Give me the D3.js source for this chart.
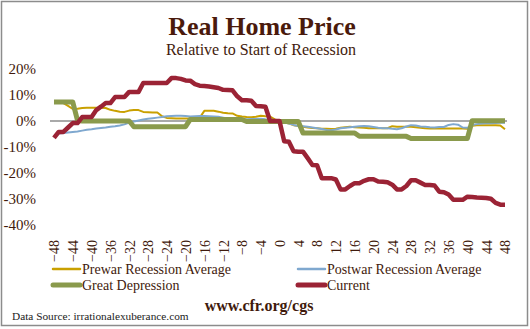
<!DOCTYPE html>
<html><head><meta charset="utf-8">
<script src="https://cdn.jsdelivr.net/npm/d3@7"></script>
<style>body{margin:0;background:#fff}svg{display:block}svg text{font-family:'Liberation Serif','DejaVu Serif',serif}</style>
</head><body>
<svg id="chart" width="530" height="329"></svg>
<script>
const months = d3.range(-48, 49);
const xTickLabels = d3.range(-48, 49, 4);
const yTicks = [20, 10, 0, -10, -20, -30, -40];

const prewar = [6.9,6.9,6.9,5.8,4.6,4.7,5.0,5.1,5.1,5.1,5.1,5.0,4.3,3.9,3.6,3.5,4.0,4.2,4.2,3.5,3.4,3.3,3.3,1.8,1.2,1.1,1.0,1.0,1.0,1.0,1.1,1.2,3.9,3.9,3.9,3.6,3.2,3.0,2.9,2.0,1.7,1.5,1.4,1.6,2.0,1.8,1.7,0.6,0,
 -0.5,-1.0,-1.6,-1.9,-2.2,-2.5,-2.7,-2.8,-3.0,-3.0,-3.1,-3.0,-2.6,-2.4,-2.2,-2.4,-2.5,-2.6,-2.8,-2.8,-2.8,-2.8,-2.8,-2.0,-2.2,-2.2,-2.2,-2.2,-2.4,-2.6,-2.8,-2.9,-2.9,-2.9,-2.9,-2.9,-2.9,-2.9,-2.9,-3.0,-1.8,-1.6,-1.6,-1.6,-1.6,-1.6,-1.7,-3.2];

const postwar = [-6.3,-4.8,-4.6,-4.4,-4.2,-4.0,-3.7,-3.4,-3.2,-2.9,-2.7,-2.5,-2.2,-2.0,-1.7,-1.3,-0.6,-0.2,0.2,0.6,0.9,1.1,1.3,1.5,1.8,1.9,2.0,2.0,1.9,1.7,1.8,1.9,1.9,1.8,1.7,1.6,1.3,1.0,0.8,0.7,0.6,0.7,0.8,0.8,0.9,0.7,0.6,0.3,0,
 -0.6,-1.0,-1.5,-1.9,-2.0,-2.2,-2.5,-2.8,-3.1,-3.5,-3.6,-3.3,-2.8,-2.6,-2.4,-2.2,-2.0,-1.9,-2.0,-2.3,-2.6,-2.8,-2.8,-3.0,-3.2,-2.8,-2.1,-1.6,-1.7,-2.1,-2.2,-2.4,-2.5,-2.3,-2.3,-1.5,-1.2,-1.4,-2.5,-2.6,-1.5,-1.2,-1.0,-0.9,-0.9,-0.8,-0.7,-0.7];

const greatDepression = [7.3,7.3,7.3,7.3,7.3,0.2,0,0,0,0,0,0,0,0,0,0,0,-2.2,-2.2,-2.2,-2.2,-2.2,-2.2,-2.2,-2.2,-2.2,-2.2,-2.2,-2.2,0.6,0.6,0.6,0.6,0.6,0.6,0.6,0.6,0.6,0.6,0.6,0.6,-0.2,-0.2,-0.2,-0.2,-0.2,-0.2,-0.2,-0.2,
 -0.2,-0.2,-0.2,-0.2,-4.6,-4.6,-4.6,-4.6,-4.6,-4.6,-4.6,-4.6,-4.6,-4.6,-4.6,-4.6,-5.9,-5.9,-5.9,-5.9,-5.9,-5.9,-5.9,-5.9,-5.9,-5.9,-5.9,-6.7,-6.7,-6.7,-6.7,-6.7,-6.7,-6.7,-6.7,-6.7,-6.7,-6.7,-6.7,-6.7,0.1,0.1,0.1,0.1,0.1,0.1,0.1,0.1];

const current = [-6.5,-4.2,-4.2,-2.5,-0.8,-0.8,1.5,1.5,1.5,4.2,5.5,6.9,6.9,9.2,9.2,9.2,11.2,11.2,11.2,14.6,14.6,14.6,14.6,14.6,14.6,16.5,16.5,16.2,15.6,15.5,14.2,13.6,13.5,13.3,13.0,12.7,12.0,11.9,11.8,9.5,8.0,8.0,7.8,5.8,5.7,5.5,0,0,0,
 -7.8,-8.0,-11.6,-11.8,-11.8,-14.3,-16.9,-17.0,-22,-22,-22,-22.5,-26.3,-26.3,-25,-23.9,-23.9,-23,-22.4,-22.4,-23.3,-23.4,-23.6,-24.5,-26.3,-26.3,-25,-22.8,-22.8,-23.7,-24.6,-24.6,-24.8,-27.2,-27.4,-28.3,-30.3,-30.3,-30.3,-29.1,-29.2,-29.4,-29.5,-29.6,-29.9,-31.5,-32.2,-32.2];

const seriesNames = ["Prewar Recession Average","Postwar Recession Average","Great Depression","Current"];
const seriesColors = ["#C9A000","#7FA8CF","#8A9A4C","#9B2335"];
const seriesWidths = [2,2,5,4.5];
const seriesData = [prewar, postwar, greatDepression, current];

const textColor = "#3F1A0C";
const serif = "'Liberation Serif','DejaVu Serif',serif";
const svg = d3.select("#chart");

svg.append("rect").attr("x",1.5).attr("y",1.5).attr("width",526).attr("height",324)
  .attr("fill","#fff").attr("stroke","#8c8c8c").attr("stroke-width",1.5);

svg.append("text").attr("x",262).attr("y",35).attr("text-anchor","middle")
  .attr("font-family",serif).attr("font-weight","bold").attr("font-size",26)
  .attr("fill","#4A1A0C").text("Real Home Price");
svg.append("text").attr("x",261).attr("y",55).attr("text-anchor","middle")
  .attr("font-family",serif).attr("font-size",16)
  .attr("fill",textColor).text("Relative to Start of Recession");

const x = d3.scaleLinear().domain([-48,48]).range([54,505]);
const y = d3.scaleLinear().domain([-40,20]).range([225,69]);

// Y axis labels
const yAxis = d3.axisLeft(y).tickValues(yTicks).tickFormat(d => d + "%").tickSize(0).tickPadding(0);
const gy = svg.append("g").attr("transform","translate(36,0)").call(yAxis);
gy.attr("font-family",null);
gy.select(".domain").remove();
gy.selectAll("text").attr("font-family",serif).attr("font-size",15).attr("fill",textColor);

// zero line
svg.append("line").attr("x1",50).attr("x2",507).attr("y1",y(0)).attr("y2",y(0))
  .attr("stroke","#8c8c8c").attr("stroke-width",1.5);

// X axis labels
const xAxis = d3.axisBottom(x).tickValues(xTickLabels).tickFormat(d3.format("d")).tickSize(0).tickPadding(0);
const gx = svg.append("g").attr("transform","translate(0,240)").call(xAxis);
gx.attr("font-family",null);
gx.select(".domain").remove();
gx.selectAll("text")
  .attr("font-family",serif).attr("font-size",14).attr("fill",textColor)
  .attr("transform","rotate(-90)").attr("text-anchor","end")
  .attr("x",0).attr("y",0).attr("dx",0).attr("dy","0.35em");

// lines
const line = d3.line().x((d,i) => x(months[i])).y(d => y(d));
seriesData.forEach((s,k) => {
  svg.append("path").datum(s).attr("d",line).attr("fill","none")
    .attr("stroke",seriesColors[k]).attr("stroke-width",seriesWidths[k])
    .attr("stroke-linejoin","round").attr("stroke-linecap","butt");
});

// legend
const legendPos = [[53,269],[298,269],[53,285],[298,285]];
seriesNames.forEach((n,k) => {
  const [lx,ly] = legendPos[k];
  svg.append("line").attr("x1",lx).attr("x2",lx+27).attr("y1",ly).attr("y2",ly)
    .attr("stroke",seriesColors[k]).attr("stroke-width",k>=2?5:2.5).attr("stroke-linecap","round");
  svg.append("text").attr("x",lx+29).attr("y",ly+5)
    .attr("font-family",serif).attr("font-size",14).attr("fill",textColor).text(n);
});

svg.append("text").attr("x",259).attr("y",311).attr("text-anchor","middle")
  .attr("font-family",serif).attr("font-weight","bold").attr("font-size",16)
  .attr("fill",textColor).text("www.cfr.org/cgs");
svg.append("text").attr("x",12).attr("y",320)
  .attr("font-family",serif).attr("font-size",11.3).attr("fill","#222")
  .text("Data Source: irrationalexuberance.com");
</script>
</body></html>
